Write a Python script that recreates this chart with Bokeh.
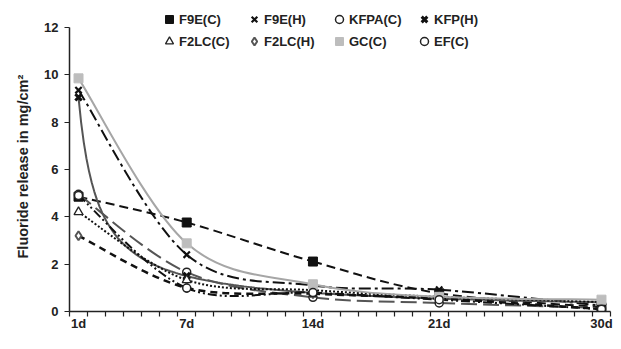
import math
import numpy as np
from bokeh.plotting import figure
from bokeh.models import (FixedTicker, Legend, LegendItem, Range1d, Title, ColumnDataSource)
from bokeh.embed import file_html
from bokeh.resources import INLINE

days = [1, 7, 14, 21, 30]
tick_days = [1, 7, 14, 21, 30]
tick_labels = ["1d", "7d", "14d", "21d", "30d"]

f9e_c = [4.85, 3.76, 2.11, 0.77, 0.18]
f9e_h = [9.35, 2.40, 1.10, 0.92, 0.25]
kfpa_c = [4.95, 1.66, 0.60, 0.36, 0.15]
kfp_h = [9.05, 1.50, 0.75, 0.55, 0.15]
f2lc_c = [4.20, 1.33, 0.90, 0.62, 0.40]
f2lc_h = [3.20, 1.00, 0.75, 0.55, 0.10]
gc_c = [9.85, 2.88, 1.15, 0.62, 0.50]
ef_c = [4.90, 0.99, 0.80, 0.50, 0.10]

FONT = "Liberation Sans"

p = figure(width=613, height=333, output_backend="svg", toolbar_location=None,
           x_range=Range1d(0.5, 30.5), y_range=Range1d(0, 12.97))
p.min_border_left = 69
p.min_border_right = 3
p.min_border_top = 4
p.min_border_bottom = 18
p.outline_line_color = None
p.xgrid.visible = False
p.ygrid.visible = False

# x axis
xt = FixedTicker(ticks=tick_days, minor_ticks=[d + 0.5 for d in range(0, 31)])
p.xaxis.ticker = xt
p.xaxis.major_label_overrides = {d: l for d, l in zip(tick_days, tick_labels)}
p.xaxis.major_tick_out = 0
p.xaxis.major_tick_in = 0
p.xaxis.minor_tick_out = 5
p.xaxis.minor_tick_in = 0
p.xaxis.major_label_standoff = -1
# y axis
p.yaxis.ticker = FixedTicker(ticks=[0, 2, 4, 6, 8, 10, 12], minor_ticks=[])
p.yaxis.bounds = (0, 12)
p.yaxis.major_tick_out = 5
p.yaxis.major_tick_in = 0
p.yaxis.minor_tick_out = 0
p.yaxis.minor_tick_in = 0
p.yaxis.major_label_standoff = 6
for ax in (p.xaxis, p.yaxis):
    ax.axis_line_color = "#222222"
    ax.axis_line_width = 1.5
    ax.major_tick_line_color = "#222222"
    ax.minor_tick_line_color = "#222222"
    ax.major_tick_line_width = 1.2
    ax.minor_tick_line_width = 1.2
    ax.major_label_text_font = FONT
    ax.major_label_text_font_style = "bold"
    ax.major_label_text_font_size = "13px"
    ax.major_label_text_color = "#222222"


def smooth(xs, ys, **kw):
    n = len(xs)
    cols = {k: [] for k in ("x0", "y0", "x1", "y1", "cx0", "cy0", "cx1", "cy1")}
    for i in range(n - 1):
        pa = i - 1 if i > 0 else i
        pd = i + 2 if i + 2 < n else i + 1
        x0, y0, x1, y1 = xs[i], ys[i], xs[i + 1], ys[i + 1]
        cols["x0"].append(x0); cols["y0"].append(y0)
        cols["x1"].append(x1); cols["y1"].append(y1)
        cols["cx0"].append(x0 + (x1 - xs[pa]) / 6.0)
        cols["cy0"].append(y0 + (y1 - ys[pa]) / 6.0)
        cols["cx1"].append(x1 - (xs[pd] - x0) / 6.0)
        cols["cy1"].append(y1 - (ys[pd] - y0) / 6.0)
    src = ColumnDataSource(cols)
    return p.bezier(x0="x0", y0="y0", x1="x1", y1="y1", cx0="cx0", cy0="cy0",
                    cx1="cx1", cy1="cy1", source=src, **kw)


def power_trend(xs, ys, **kw):
    # power-law trend anchored on the first two measurements
    b = math.log(ys[1] / ys[0]) / math.log(xs[1] / xs[0])
    xx = np.linspace(xs[0], xs[-1], 200)
    return p.line(xx, ys[0] * (xx / xs[0]) ** b, **kw)


series = [
    ("F9E(C)", f9e_c, "smooth", dict(line_color="#111111", line_width=2, line_dash="9 5"),
     dict(marker="square", size=9, fill_color="#111111", line_color="#111111")),
    ("F9E(H)", f9e_h, "smooth", dict(line_color="#111111", line_width=2, line_dash="12 4 3 4"),
     dict(marker="x", size=9, line_color="#111111", line_width=2.2)),
    ("KFPA(C)", kfpa_c, "smooth", dict(line_color="#555555", line_width=2, line_dash="16 6"),
     dict(marker="circle", size=8, fill_color="white", line_color="#222222", line_width=1.5)),
    ("KFP(H)", kfp_h, "power", dict(line_color="#555555", line_width=2),
     dict(marker="x", size=9, line_color="#111111", line_width=3)),
    ("F2LC(C)", f2lc_c, "smooth", dict(line_color="#111111", line_width=2, line_dash="2 2"),
     dict(marker="triangle", size=9, fill_color="white", line_color="#222222", line_width=1.3)),
    ("F2LC(H)", f2lc_h, "smooth", dict(line_color="#111111", line_width=2.5, line_dash="7 5"),
     dict(marker="diamond", size=9, fill_color="white", line_color="#555555", line_width=2)),
    ("GC(C)", gc_c, "smooth", dict(line_color="#a6a6a6", line_width=2),
     dict(marker="square", size=9, fill_color="#bdbdbd", line_color="#bdbdbd")),
    ("EF(C)", ef_c, "smooth", dict(line_color="#111111", line_width=2, line_dash="9 3 2 3 2 3"),
     dict(marker="circle", size=8, fill_color="white", line_color="#222222", line_width=1.5)),
]

items = []
for name, ys, kind, lstyle, mstyle in series:
    if kind == "power":
        power_trend(days, ys, **lstyle)
    else:
        smooth(days, ys, **lstyle)
for name, ys, kind, lstyle, mstyle in series:
    r = p.scatter(days, ys, **mstyle)
    items.append(LegendItem(label=name, renderers=[r]))

legend = Legend(items=items, location=(90, 260), orientation="horizontal", ncols=4,
                glyph_width=20, glyph_height=20, label_standoff=0,
                label_width=63, label_height=20, spacing=2, padding=0, margin=0,
                label_text_font=FONT, label_text_font_style="bold",
                label_text_font_size="13px", label_text_color="#222222",
                background_fill_alpha=0, border_line_color=None)
p.add_layout(legend, "center")

ytitle = Title(text="Fluoride release in mg/cm²", align="left", offset=53,
               text_font=FONT, text_font_style="bold", text_font_size="14.5px",
               text_color="#222222", standoff=22)
p.add_layout(ytitle, "left")

open("out.html", "w").write(file_html(p, INLINE))
